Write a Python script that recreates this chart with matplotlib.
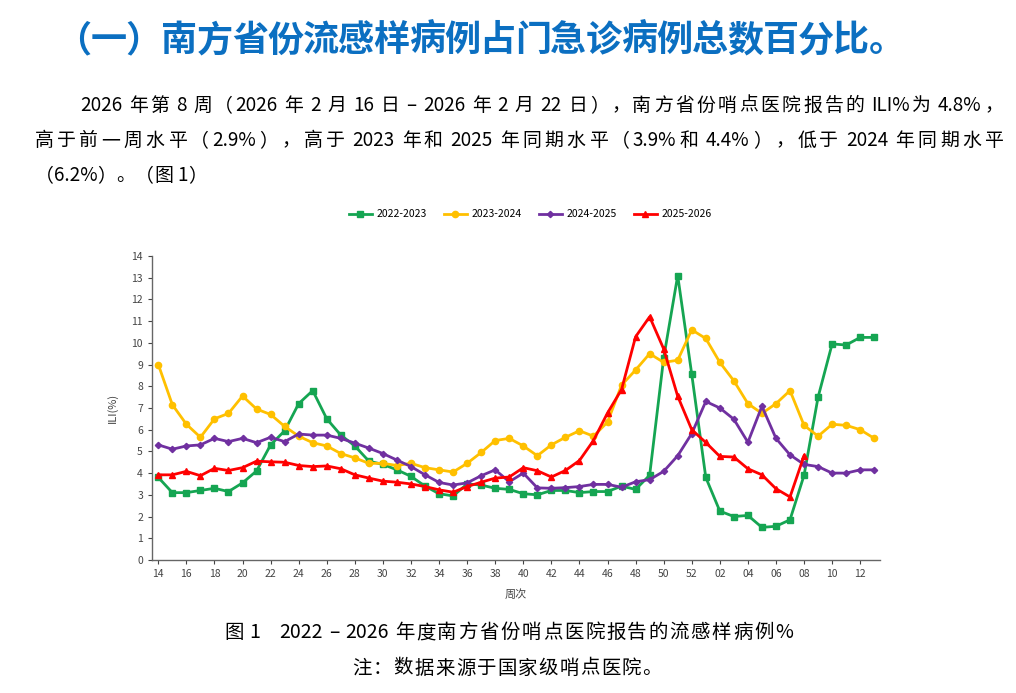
import re
import numpy as np
import matplotlib
matplotlib.use("Agg")
import matplotlib.pyplot as plt

plt.rcParams['font.family'] = ['Noto Sans CJK SC', 'DejaVu Sans']

# ==================== Data ====================== #

weeks = [str(w) for w in range(14, 53)] + ["%02d" % w for w in range(1, 14)]

ili_2022 = [3.8, 3.1, 3.1, 3.2, 3.3, 3.15, 3.55, 4.1, 5.3, 5.95, 7.2, 7.8, 6.5, 5.75,
            5.25, 4.55, 4.4, 4.15, 3.85, 3.4, 3.05, 2.95, 3.5, 3.45, 3.3, 3.25, 3.05,
            3.0, 3.2, 3.2, 3.1, 3.15, 3.15, 3.4, 3.25, 3.9, 9.3, 13.1, 8.55,
            3.8, 2.25, 2.0, 2.05, 1.5, 1.55, 1.85, 3.9, 7.5, 9.95, 9.9, 10.25, 10.25]
ili_2023 = [9.0, 7.15, 6.25, 5.65, 6.5, 6.75, 7.55, 6.95, 6.7, 6.15, 5.7, 5.4, 5.25, 4.9,
            4.7, 4.45, 4.45, 4.35, 4.45, 4.25, 4.15, 4.05, 4.45, 4.95, 5.5, 5.6, 5.25,
            4.8, 5.3, 5.65, 5.95, 5.7, 6.35, 8.05, 8.75, 9.5, 9.1, 9.2, 10.6,
            10.2, 9.1, 8.25, 7.2, 6.75, 7.2, 7.8, 6.2, 5.7, 6.25, 6.2, 6.0, 5.6]
ili_2024 = [5.3, 5.1, 5.25, 5.3, 5.6, 5.45, 5.6, 5.4, 5.65, 5.45, 5.8, 5.75, 5.75, 5.6,
            5.38, 5.15, 4.9, 4.6, 4.3, 3.92, 3.57, 3.45, 3.55, 3.88, 4.15, 3.6, 4.0,
            3.32, 3.3, 3.33, 3.38, 3.48, 3.48, 3.35, 3.6, 3.7, 4.08, 4.8, 5.82,
            7.3, 7.0, 6.48, 5.42, 7.08, 5.6, 4.84, 4.4, 4.3, 4.0, 4.0, 4.15, 4.15]
ili_2025 = [3.92, 3.92, 4.08, 3.88, 4.22, 4.12, 4.25, 4.55, 4.52, 4.5, 4.35, 4.3, 4.33, 4.2,
            3.92, 3.77, 3.63, 3.58, 3.5, 3.38, 3.23, 3.12, 3.38, 3.58, 3.77, 3.82, 4.25,
            4.11, 3.82, 4.12, 4.58, 5.5, 6.77, 7.85, 10.28, 11.2, 9.72, 7.54, 6.0,
            5.41, 4.77, 4.74, 4.2, 3.92, 3.28, 2.9, 4.8]

season_names = ["2022-2023", "2023-2024", "2024-2025", "2025-2026"]
season_colors = ["#15a552", "#ffc000", "#7030a0", "#ff0000"]
season_markers = ["s", "o", "D", "^"]
season_sizes = [4.5, 4.5, 3.2, 4.0]

title_text = "（一）南方省份流感样病例占门急诊病例总数百分比。"
para_lines = [
    "2026 年第 8 周（2026 年 2 月 16 日 – 2026 年 2 月 22 日），南方省份哨点医院报告的 ILI%为 4.8%，",
    "高于前一周水平（2.9%），高于 2023 年和 2025 年同期水平（3.9%和 4.4%），低于 2024 年同期水平",
    "（6.2%）。（图 1）",
]
caption = "图 1    2022 – 2026 年度南方省份哨点医院报告的流感样病例%"
note = "注：数据来源于国家级哨点医院。"


# ===================== Functions ======================= #

# writes a line token by token so that it spans pixel x0..x1 (justified);
# runs of latin letters / digits stay together, a trailing space sticks to its token
def spread_text(fig, s, x0, x1, y, **kw):
    r = fig.canvas.get_renderer()

    def wid(t):
        tt = fig.text(0, 0, t, **kw)
        w = tt.get_window_extent(renderer=r).width
        tt.remove()
        return w

    tokens = re.findall(r'[A-Za-z0-9.%]+ *|. *', s)
    base = wid("||")
    widths = [wid("|" + t + "|") - base for t in tokens]
    gap = 0.0
    if x1 is not None and len(tokens) > 1:
        gap = (x1 - x0 - sum(widths)) / (len(tokens) - 1)
    W, H = fig.canvas.get_width_height()
    x = x0
    for t, w in zip(tokens, widths):
        if t.strip():
            fig.text(x / W, y, t.rstrip(), ha='left', va='center', **kw)
        x += w + gap


# ===================== Plotting ======================== #

fig = plt.figure(figsize=(10.16, 6.93), dpi=100)
ax = fig.add_axes([0.1496, 0.192, 0.7164, 0.4386])

x = np.arange(len(weeks))
series = [ili_2022, ili_2023, ili_2024, ili_2025]
for vals, name, col, mk, ms in zip(series, season_names, season_colors,
                                   season_markers, season_sizes):
    ax.plot(x[:len(vals)], vals, color=col, marker=mk, markersize=ms,
            linewidth=2, label=name)

ax.set_xlim(-0.45, 51.4)
ax.set_ylim(0, 14)
ax.set_yticks(range(0, 15))
ax.set_xticks(x[::2])
ax.set_xticklabels(weeks[::2])
ax.tick_params(labelsize=7.5, colors='#444444', length=3, width=0.8)
for s in ['top', 'right']:
    ax.spines[s].set_visible(False)
for s in ['left', 'bottom']:
    ax.spines[s].set_color('#666666')
    ax.spines[s].set_linewidth(1)
ax.set_ylabel("ILI(%)", fontsize=8, color='#444444', labelpad=10)
ax.set_xlabel("周次", fontsize=8, color='#444444', labelpad=7)

ax.legend(loc='lower center', bbox_to_anchor=(0.52, 1.09), ncol=4, frameon=False,
          fontsize=7.5, handlelength=2.2, columnspacing=1.6, handletextpad=0.5)

spread_text(fig, title_text, 55, 905, 0.941, fontsize=26, fontweight='bold', color='#0b6fc1')
spread_text(fig, para_lines[0], 80, 1003, 0.848, fontsize=13.6)
spread_text(fig, para_lines[1], 35, 1003, 0.797, fontsize=13.6)
spread_text(fig, para_lines[2], 35, None, 0.747, fontsize=13.6)

spread_text(fig, caption, 224, 793, 0.087, fontsize=14)
spread_text(fig, note, 352, 662, 0.036, fontsize=14)

fig.savefig("out.png", dpi=100)
